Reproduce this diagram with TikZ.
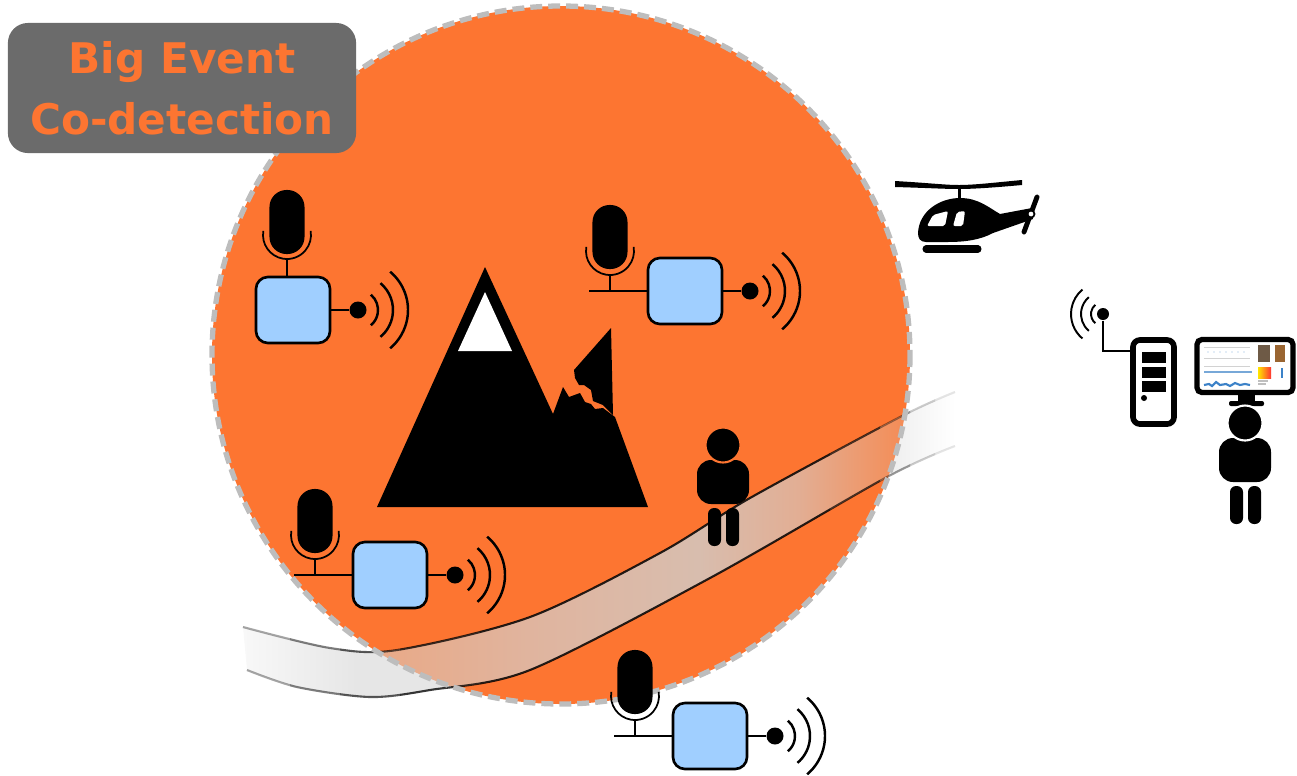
\documentclass[tikz,border=0pt]{standalone}
\usepackage{fontspec}
\newfontfamily\titlefont{DejaVu Sans}
\definecolor{alert}   {HTML}{FD7531}
\definecolor{rim}     {HTML}{BDBDBD}
\definecolor{panel}   {HTML}{6B6B6B}
\definecolor{unit}    {HTML}{A0CFFF}
\definecolor{plotblue}{HTML}{3C82C8}
\definecolor{photo}   {HTML}{6E5A46}
\definecolor{bandA}{RGB}{236,166,128}
\definecolor{bandB}{RGB}{224,180,158}
\definecolor{bandC}{RGB}{216,189,174}
\definecolor{bandD}{RGB}{226,174,148}
\definecolor{bandE}{RGB}{241,147,98}
\definecolor{bandF}{RGB}{252,122,58}
\definecolor{paleA}{RGB}{248,248,248}
\definecolor{paleB}{RGB}{230,230,230}

\pgfdeclarehorizontalshading{roadonorange}{100bp}{color(0bp)=(bandA); color(31bp)=(bandA);
  color(45bp)=(bandB); color(57bp)=(bandC); color(64bp)=(bandD); color(70bp)=(bandE);
  color(75bp)=(bandF); color(100bp)=(bandF)}
\pgfdeclarehorizontalshading{roadonwhite}{100bp}{color(0bp)=(paleA); color(25bp)=(paleA);
  color(33bp)=(paleB); color(68bp)=(paleB); color(75bp)=(white); color(100bp)=(white)}

\tikzset{
  wire/.style={line width=0.75pt},
  wave/.style={line width=0.7pt},
  unitbox/.style={draw, fill=unit, line width=0.75pt, rounded corners=0.12cm,
    minimum width=0.74cm, minimum height=0.66cm, inner sep=0pt},
  txdot/.style={circle, fill=black, minimum size=0.17cm, inner sep=0pt},
  micbody/.style={fill=black, rounded corners=0.17cm, minimum width=0.35cm,
    minimum height=0.64cm, inner sep=0pt},
  titlebox/.style={fill=panel, rounded corners=0.2cm, minimum width=3.48cm,
    minimum height=1.3cm, inner sep=0pt, text=alert, align=center,
    font=\titlefont\bfseries\fontsize{12}{17.4}\selectfont},
  tower/.style={draw, fill=white, line width=1.6pt, rounded corners=0.07cm,
    minimum width=0.41cm, minimum height=0.84cm, inner sep=0pt},
  screen/.style={draw, fill=white, line width=1.5pt, rounded corners=0.05cm,
    minimum width=0.96cm, minimum height=0.53cm, inner sep=0pt},
  sensor/.pic={
    \node[unitbox] (-box) at (0,0) {};
    \node[txdot] (-dot) at (65,0) {};
    \node[micbody] (-mic) at (-75,-54) {};
    \coordinate (-foot) at (-96,0);
    \draw[wire] (-box) -- (-dot);
    \draw[wire] (-foot) -- (-box);
    \draw[wire] (-75,-16) -- (-75,0);
    \draw[line width=0.5pt] (-75,-40) ++(190:24) arc[start angle=190, end angle=-10, radius=24];
    \foreach \r in {20,35,50}
      \draw[wave] (-dot.center) ++(-50:\r) arc[start angle=-50, end angle=50, radius=\r];
  },
  sensortop/.pic={
    \node[unitbox] (-box) at (0,0) {};
    \node[txdot] (-dot) at (65,0) {};
    \node[micbody] (-mic) at (-6,-88) {};
    \draw[wire] (-box) -- (-dot);
    \draw[wire] (-6,-51) -- (-6,-33);
    \draw[line width=0.5pt] (-6,-75) ++(190:24) arc[start angle=190, end angle=-10, radius=24];
    \foreach \r in {20,35,50}
      \draw[wave] (-dot.center) ++(-50:\r) arc[start angle=-50, end angle=50, radius=\r];
  },
  person/.pic={
    \fill[rounded corners=0.14cm] (-26,15) rectangle (26,59);
    \fill[rounded corners=0.06cm] (-15,63) rectangle (-2,101);
    \fill[rounded corners=0.06cm] (3,63) rectangle (16,101);
    \filldraw[draw=#1, line width=0.6pt] (0,0) circle[radius=17.5];
  },
}

\begin{document}
\begin{tikzpicture}[x=0.01cm, y=-0.01cm]
  \useasboundingbox (0,0) rectangle (1297,775);

  \fill[alert] (561,355) circle[radius=349];

  \shade[shading=roadonwhite]
    plot[smooth] coordinates {(243,627) (330,648) (397,650) (530,617) (660,553) (750,498) (900,417) (955,392)}
    -- plot[smooth] coordinates {(955,446) (887,477) (710,578) (530,670) (430,690) (370,697) (297,687) (247,670)}
    -- cycle;
  \begin{scope}
    \clip (561,355) circle[radius=349];
    \shade[shading=roadonorange]
      plot[smooth] coordinates {(243,627) (330,648) (397,650) (530,617) (660,553) (750,498) (900,417) (955,392)}
      -- plot[smooth] coordinates {(955,446) (887,477) (710,578) (530,670) (430,690) (370,697) (297,687) (247,670)}
      -- cycle;
  \end{scope}
  \foreach \a/\b/\o in {240/290/0.35, 290/340/0.5, 340/400/0.65, 400/480/0.78,
                        480/830/0.85, 830/880/0.7, 880/910/0.4, 910/935/0.2, 935/960/0.1}{
    \begin{scope}
      \clip (\a,0) rectangle (\b,775);
      \draw[line width=0.6pt, draw opacity=\o]
        plot[smooth] coordinates {(243,627) (330,648) (397,650) (530,617) (660,553) (750,498) (900,417) (955,392)};
      \draw[line width=0.6pt, draw opacity=\o]
        plot[smooth] coordinates {(247,670) (297,687) (370,697) (430,690) (530,670) (710,578) (887,477) (955,446)};
    \end{scope}
  }

  \draw[rim, line width=1.5pt, dash pattern=on 3.4pt off 1.7pt] (561,355) circle[radius=349];

  \fill (377,507) -- (485,267) -- (553,414) -- (563,387) -- (569,397) -- (580,393)
    -- (585,402) -- (591,404) -- (595,409) -- (603,408) -- (615,417) -- (648,507) -- cycle;
  \fill (574,370) -- (611,328) -- (613,415) -- (603,405) -- (593,401) -- (591,390)
    -- (584,385) -- (579,385) -- (575,378) -- cycle;
  \fill[white] (485,292) -- (512,351) -- (458,351) -- cycle;

  \pic (s1) at (293,310) {sensortop};
  \pic (s2) at (685,291) {sensor};
  \pic (s3) at (390,575) {sensor};
  \pic (s4) at (710,736) {sensor};

  \pic (hiker) at (723,445) {person=alert};

  \fill (895,181) .. controls (930,183) and (945,185) .. (959,185)
    .. controls (975,185) and (1000,182) .. (1022,180) -- (1022,185)
    .. controls (1000,187) and (975,189) .. (959,189)
    .. controls (945,189) and (930,188) .. (895,187) -- cycle;
  \fill (957.5,186) rectangle (961,202);
  \fill (918,233) .. controls (919,211) and (940,198) .. (960,198)
    .. controls (978,198) and (988,207) .. (1000,214) -- (1032,208) -- (1033,219)
    -- (993,233) .. controls (980,240) and (965,242) .. (947,242) -- (926,242)
    .. controls (920,242) and (918,238) .. (918,233) -- cycle;
  \fill[white, rounded corners=0.02cm] (927,226) -- (933,215) -- (948,211) -- (945,226) -- cycle;
  \fill[white, rounded corners=0.02cm] (953,226) -- (957,212) -- (965,211) -- (963,226) -- cycle;
  \draw[line width=1.4pt, line cap=round] (1037,197) -- (1024,232);
  \filldraw[fill=white, line width=0.5pt] (1031,214) circle[radius=3.5];
  \draw[line width=2pt, line cap=round] (926,249) -- (978,249);

  \node[tower] (tower) at (1153.5,382) {};
  \fill (1142,352) rectangle (1166,363);
  \fill (1142,367) rectangle (1166,378);
  \fill (1142,381) rectangle (1166,392);
  \fill (1144,398) circle[radius=3];
  \node[txdot, minimum size=0.12cm] (aerial) at (1103,314) {};
  \draw[line width=0.55pt] (aerial) |- ([yshift=0.31cm]tower.west);
  \foreach \r in {12,22,32}
    \draw[line width=0.55pt] (aerial.center) ++(130:\r) arc[start angle=130, end angle=230, radius=\r];

  \node[screen] (monitor) at (1245,366) {};
  \fill (1238,395) rectangle (1255,402);
  \fill[rounded corners=0.02cm] (1229,401) rectangle (1264,406);
  \draw[gray!35, line width=0.2pt] (1204,347) -- (1250,347) (1204,358) -- (1250,358) (1204,366) -- (1250,366);
  \foreach \x in {1208,1214,...,1248}
    \fill[plotblue!60] (\x,352) circle[radius=0.7];
  \draw[plotblue!70, line width=0.4pt] (1204,372) -- (1252,372);
  \draw[plotblue, line width=0.6pt] plot coordinates {(1204,385) (1209,384) (1212,386) (1216,382)
    (1220,385) (1226,384) (1230,386) (1235,383) (1240,385) (1245,384) (1250,385)};
  \fill[photo] (1258,345) rectangle (1270,362);
  \fill[photo!70!orange] (1275,345) rectangle (1285,362);
  \shade[left color=yellow!80!orange, right color=red!80] (1258,367) rectangle (1271,378);
  \draw[gray!50, line width=0.3pt] (1258,381) -- (1268,381) (1258,384) -- (1266,384);
  \draw[plotblue, line width=0.5pt] (1282,368) -- (1282,378);

  \pic (viewer) at (1245,423) {person=white};

  \node[titlebox] (title) at (182,88) {Big Event\\Co-detection};
\end{tikzpicture}
\end{document}
